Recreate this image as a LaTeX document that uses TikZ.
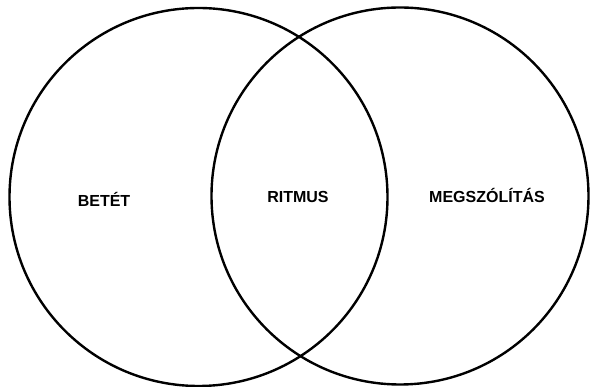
\documentclass[tikz,border=0pt]{standalone}
\usepackage{fontspec}
\setmainfont{Liberation Sans}
\begin{document}
\begin{tikzpicture}[x=1pt,y=-1pt,
  ring/.style={draw=black,line width=2.4pt,circle,minimum size=#1,inner sep=0pt},
  lbl/.style={font=\fontsize{16}{18}\selectfont\bfseries,inner sep=0pt}]
\useasboundingbox (0,0) rectangle (590,387);
\node[ring=378pt] (left) at (198.5,197) {};
\node[ring=377pt] (right) at (400,196) {};
\node[lbl] (betet) at (104,199) {BETÉT};
\node[lbl] (ritmus) at (298,197) {RITMUS};
\node[lbl] (megsz) at (487,195) {MEGSZÓLÍTÁS};
\end{tikzpicture}
\end{document}
